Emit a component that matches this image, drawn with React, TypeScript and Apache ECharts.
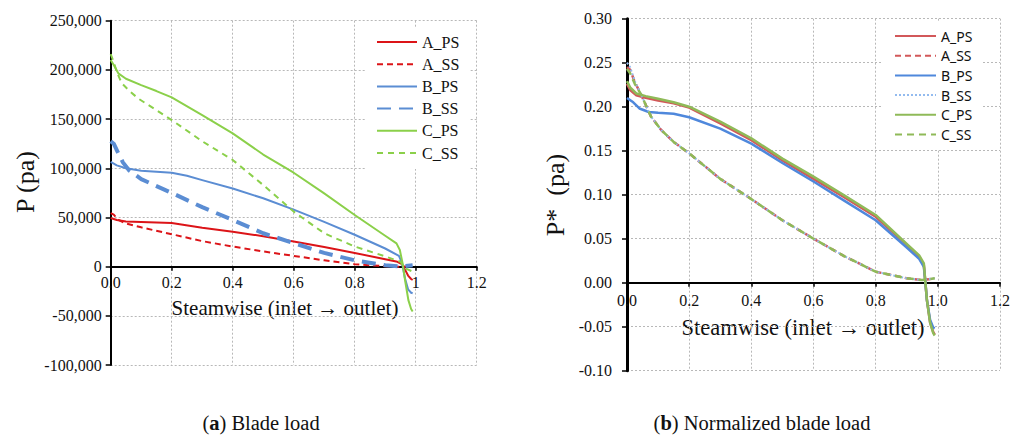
import React, { useEffect, useRef } from "react";
import * as echarts from "echarts";

// ---- Blade load P (pa) along the streamwise coordinate ----
const loadAPS: [number, number][] = [
  [0, 49500], [0.02, 47500], [0.05, 46000], [0.1, 45500], [0.2, 44500], [0.3, 39500],
  [0.4, 35500], [0.5, 31000], [0.6, 25500], [0.7, 20000], [0.8, 14000], [0.9, 7500],
  [0.94, 5000], [0.955, 2500], [0.965, -3000], [0.975, -9000], [0.985, -12500], [0.99, -13500],
];
const loadASS: [number, number][] = [
  [0, 54500], [0.01, 53000], [0.025, 47500], [0.05, 44000], [0.1, 40000], [0.2, 33000],
  [0.3, 26000], [0.4, 20500], [0.5, 15500], [0.6, 11000], [0.7, 6500], [0.8, 2500],
  [0.9, 500], [0.95, 0], [0.97, 500], [0.99, 1700],
];
const loadBPS: [number, number][] = [
  [0, 106500], [0.02, 103000], [0.05, 100000], [0.1, 97500], [0.2, 95500], [0.25, 92500],
  [0.3, 88000], [0.4, 79500], [0.5, 69500], [0.6, 58000], [0.7, 45500], [0.8, 32500],
  [0.9, 18500], [0.945, 11000], [0.955, 4000], [0.965, -12000], [0.975, -23000],
  [0.985, -26500], [0.99, -27000],
];
const loadBSS: [number, number][] = [
  [0, 127500], [0.01, 125000], [0.02, 118500], [0.04, 106000], [0.06, 98000], [0.1, 89000],
  [0.2, 75000], [0.3, 60500], [0.4, 47500], [0.5, 34000], [0.6, 24000], [0.7, 14000],
  [0.8, 6500], [0.9, 1500], [0.95, 300], [0.99, 1500],
];
const loadCPS: [number, number][] = [
  [0, 210000], [0.01, 205000], [0.025, 196500], [0.05, 191000], [0.1, 184500],
  [0.15, 178500], [0.2, 172000], [0.3, 154000], [0.4, 135500], [0.5, 114000],
  [0.6, 95500], [0.7, 74500], [0.8, 52500], [0.9, 31500], [0.937, 23700], [0.948, 17000],
  [0.957, 3400], [0.965, -13500], [0.976, -34000], [0.985, -43000], [0.99, -45500],
];
const loadCSS: [number, number][] = [
  [0, 216000], [0.01, 208000], [0.02, 198000], [0.036, 186500], [0.06, 179000],
  [0.09, 171000], [0.2, 149000], [0.3, 127500], [0.4, 108500], [0.5, 83000], [0.6, 56000],
  [0.7, 34000], [0.8, 20500], [0.9, 10500], [0.95, 5000], [0.965, -1500], [0.99, -5000],
];

// ---- Normalized blade load P* ----
const normAPS: [number, number][] = [
  [0, 0.226], [0.01, 0.219], [0.03, 0.213], [0.06, 0.21], [0.1, 0.207], [0.15, 0.204],
  [0.2, 0.199], [0.3, 0.181], [0.4, 0.162], [0.5, 0.139], [0.6, 0.118], [0.7, 0.097],
  [0.8, 0.075], [0.9, 0.043], [0.94, 0.029], [0.955, 0.02], [0.96, 0.0], [0.965, -0.02],
  [0.975, -0.045], [0.985, -0.056], [0.99, -0.059],
];
const normASS: [number, number][] = [
  [0, 0.245], [0.01, 0.242], [0.025, 0.228], [0.045, 0.214], [0.077, 0.189], [0.11, 0.1735],
  [0.15, 0.16], [0.2, 0.147], [0.3, 0.118], [0.4, 0.095], [0.5, 0.071], [0.6, 0.05],
  [0.7, 0.03], [0.8, 0.0125], [0.9, 0.005], [0.95, 0.003], [0.99, 0.005],
];
const normBPS: [number, number][] = [
  [0, 0.21], [0.02, 0.205], [0.04, 0.198], [0.07, 0.194], [0.1, 0.193], [0.15, 0.192],
  [0.2, 0.188], [0.3, 0.175], [0.4, 0.158], [0.5, 0.136], [0.6, 0.115], [0.7, 0.093],
  [0.8, 0.071], [0.9, 0.04], [0.94, 0.027], [0.955, 0.018], [0.96, 0.0], [0.965, -0.02],
  [0.975, -0.042], [0.985, -0.051], [0.99, -0.052],
];
const normBSS: [number, number][] = [
  [0, 0.25], [0.01, 0.245], [0.025, 0.229], [0.045, 0.214], [0.077, 0.189], [0.11, 0.1735],
  [0.15, 0.16], [0.2, 0.147], [0.3, 0.118], [0.4, 0.095], [0.5, 0.071], [0.6, 0.05],
  [0.7, 0.03], [0.8, 0.0125], [0.9, 0.005], [0.95, 0.003], [0.99, 0.005],
];
const normCPS: [number, number][] = [
  [0, 0.229], [0.01, 0.222], [0.03, 0.215], [0.06, 0.212], [0.1, 0.209], [0.15, 0.205],
  [0.2, 0.2], [0.3, 0.183], [0.4, 0.164], [0.5, 0.141], [0.6, 0.1205], [0.7, 0.099],
  [0.8, 0.077], [0.9, 0.044], [0.94, 0.031], [0.955, 0.022], [0.96, 0.0], [0.965, -0.02],
  [0.975, -0.045], [0.985, -0.057], [0.99, -0.06],
];
const normCSS: [number, number][] = [
  [0, 0.243], [0.01, 0.238], [0.025, 0.226], [0.045, 0.214], [0.077, 0.189], [0.11, 0.1735],
  [0.15, 0.16], [0.2, 0.147], [0.3, 0.118], [0.4, 0.095], [0.5, 0.071], [0.6, 0.05],
  [0.7, 0.03], [0.8, 0.0125], [0.9, 0.005], [0.95, 0.003], [0.99, 0.005],
];

const seriesNames = ["A_PS", "A_SS", "B_PS", "B_SS", "C_PS", "C_SS"];

const SERIF = "Liberation Serif";
const SANS = "Noto Sans";

type LineDef = { data: [number, number][]; color: string; width: number; dash: number[] | "solid" };

function lineSeries(name: string, d: LineDef) {
  return {
    name,
    type: "line",
    data: d.data,
    symbol: "none",
    showSymbol: false,
    smooth: false,
    lineStyle: { color: d.color, width: d.width, type: d.dash, cap: "butt", join: "round" },
    itemStyle: { color: d.color },
  };
}

// texts go through a rich style token so that each keeps its own font
const tok = (s: string) => `{t|${s}}`;
const richT = (family: string, size: number, weight = "normal") => ({
  t: { fontFamily: family, fontSize: size, fontWeight: weight, color: "#111" },
});

function baseAxes(opts: {
  yMin: number; yMax: number; yInterval: number; yFmt: (v: number) => string;
  xFmt: (v: number) => string; yAxisWidth: number; labelSize: number; yMargin: number;
  xMargin: number; zeroOffset: number;
}) {
  const grid = { lineStyle: { color: "#b8b8b8", width: 1, type: [2, 2] } };
  return {
    xAxis: {
      type: "value", min: 0, max: 1.2, interval: 0.2,
      position: "bottom",
      // the axis (line, ticks and labels) sits on the zero level of the y scale
      offset: opts.zeroOffset,
      axisLine: { onZero: false, lineStyle: { color: "#000", width: 2 } },
      axisTick: { show: true, length: 4, lineStyle: { color: "#000", width: 1.5 } },
      axisLabel: {
        formatter: (v: number) => tok(opts.xFmt(v)),
        rich: richT(SERIF, opts.labelSize), margin: opts.xMargin,
      },
      splitLine: { show: true, ...grid },
    },
    yAxis: {
      type: "value", min: opts.yMin, max: opts.yMax, interval: opts.yInterval,
      axisLine: { show: true, lineStyle: { color: "#000", width: opts.yAxisWidth } },
      axisTick: { show: true, length: 5, lineStyle: { color: "#000", width: 1.5 } },
      axisLabel: {
        formatter: (v: number) => tok(opts.yFmt(v)),
        rich: richT(SERIF, opts.labelSize), margin: opts.yMargin,
      },
      splitLine: { show: true, ...grid },
    },
  };
}

function caption(letter: string, rest: string, x: number, y: number) {
  return {
    type: "text", x, y,
    style: {
      text: `{p|(}{b|${letter}}{p|) ${rest}}`,
      align: "center", verticalAlign: "middle", fill: "#111",
      rich: {
        p: { fontFamily: SERIF, fontSize: 20.5, fill: "#111" },
        b: { fontFamily: SERIF, fontSize: 20.5, fontWeight: "bold", fill: "#111" },
      },
    },
  };
}

function plainText(text: string, x: number, y: number, size: number, rotation = 0) {
  return {
    type: "text", x, y, rotation,
    style: {
      text: `{p|${text}}`, align: "center", verticalAlign: "middle", fill: "#111",
      rich: { p: { fontFamily: SERIF, fontSize: size, fill: "#111" } },
    },
  };
}

export default function App() {
  const leftRef = useRef<HTMLDivElement>(null);
  const rightRef = useRef<HTMLDivElement>(null);

  useEffect(() => {
    if (!leftRef.current || !rightRef.current) return;
    const left = echarts.init(leftRef.current, undefined, { renderer: "svg" });
    const right = echarts.init(rightRef.current, undefined, { renderer: "svg" });

    const loadDefs: LineDef[] = [
      { data: loadAPS, color: "#dc1418", width: 2, dash: "solid" },
      { data: loadASS, color: "#dc1418", width: 2, dash: [6, 4] },
      { data: loadBPS, color: "#5b8dd3", width: 2, dash: "solid" },
      { data: loadBSS, color: "#5b8dd3", width: 4, dash: [14, 8] },
      { data: loadCPS, color: "#8bd04a", width: 2, dash: "solid" },
      { data: loadCSS, color: "#8bd04a", width: 2, dash: [6, 5] },
    ];
    const normDefs: LineDef[] = [
      { data: normAPS, color: "#d2585a", width: 2.5, dash: "solid" },
      { data: normASS, color: "#d2585a", width: 2.5, dash: [6, 4] },
      { data: normBPS, color: "#4f88dc", width: 2.5, dash: "solid" },
      { data: normBSS, color: "#93bbef", width: 2, dash: [2, 2] },
      { data: normCPS, color: "#8fba58", width: 2.5, dash: "solid" },
      { data: normCSS, color: "#8fba58", width: 2.5, dash: [7, 5] },
    ];

    const legendCommon = {
      orient: "vertical",
      backgroundColor: "#fff",
      itemStyle: { opacity: 0 },
      formatter: (name: string) => tok(name),
      data: seriesNames,
    };

    left.setOption({
      animation: false,
      backgroundColor: "#fff",
      grid: { left: 110.7, top: 20.7, width: 366, height: 344.4 },
      ...baseAxes({
        yMin: -100000, yMax: 250000, yInterval: 50000,
        yFmt: (v) => v.toLocaleString("en-US"),
        xFmt: (v) => (Math.abs(v - 1) < 1e-9 ? "1" : v.toFixed(1)),
        yAxisWidth: 2, labelSize: 16, yMargin: 9, xMargin: 8,
        zeroOffset: -98.4,
      }),
      legend: {
        ...legendCommon,
        left: 365, top: 28,
        padding: [6, 10, 8, 11], itemGap: 6.2, itemWidth: 40, itemHeight: 14,
        textStyle: { rich: richT(SERIF, 16) },
      },
      series: seriesNames.map((n, i) => lineSeries(n, loadDefs[i])),
      graphic: [
        plainText("Steamwise (inlet \u2192 outlet)", 285, 308, 21),
        plainText("P (pa)", 25, 182, 26, Math.PI / 2),
        caption("a", "Blade load", 261, 423),
      ],
    });

    right.setOption({
      animation: false,
      backgroundColor: "#fff",
      grid: { left: 121, top: 18.7, width: 375, height: 352 },
      ...baseAxes({
        yMin: -0.1, yMax: 0.3, yInterval: 0.05,
        yFmt: (v) => v.toFixed(2),
        xFmt: (v) => v.toFixed(1),
        yAxisWidth: 3, labelSize: 16, yMargin: 15, xMargin: 10,
        zeroOffset: -88,
      }),
      legend: {
        ...legendCommon,
        left: 376, top: 22,
        padding: [7, 10, 8, 12], itemGap: 5.7, itemWidth: 41, itemHeight: 14,
        textStyle: { rich: richT(SANS, 14) },
      },
      series: seriesNames.map((n, i) => lineSeries(n, normDefs[i])),
      graphic: [
        plainText("Steamwise (inlet \u2192 outlet)", 297, 327, 22.5),
        plainText("P*  (pa)", 49, 195, 26, Math.PI / 2),
        caption("b", "Normalized blade load", 256, 423),
      ],
    });

    return () => {
      left.dispose();
      right.dispose();
    };
  }, []);

  return (
    <div style={{ position: "absolute", left: 0, top: 0, width: 1013, height: 435, background: "#fff", fontFamily: "Liberation Serif, serif" }}>
      <div ref={leftRef} style={{ position: "absolute", left: 0, top: 0, width: 506, height: 435 }} />
      <div ref={rightRef} style={{ position: "absolute", left: 506, top: 0, width: 507, height: 435 }} />
    </div>
  );
}
